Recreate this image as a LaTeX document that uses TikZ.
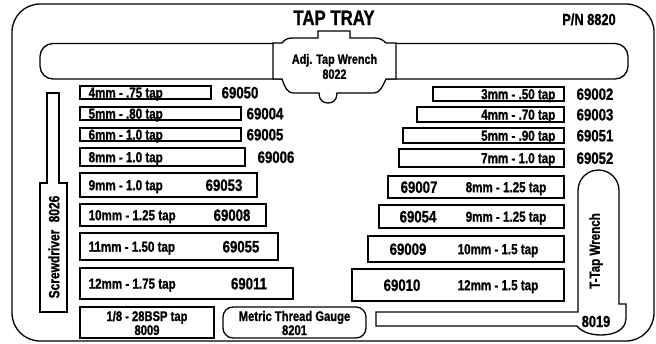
\documentclass[tikz,border=0pt]{standalone}
\usepackage{fontspec}
\setmainfont{Liberation Sans}[FakeStretch=0.8, BoldFeatures={FakeBold=1}]
\newcommand\fsz[1]{\bfseries\fontsize{#1}{#1}\selectfont}
\newcommand\lrow[8]{%
  \node[box, minimum width={#4-#2}, minimum height={#5-#3}] (#1) at ({(#2+#4)/2},{(#3+#5)/2}) {};
  \node[txt, anchor=west] (#1t) at ([xshift=8pt]#1.west) {#6};
  \node[num] (#1n) at (#8,{(#3+#5)/2}) {#7};}
\newcommand\rrowa[7]{%
  \node[box, minimum width={#4-#2}, minimum height={#5-#3}] (#1) at ({(#2+#4)/2},{(#3+#5)/2}) {};
  \node[txt, anchor=east] (#1t) at ([xshift=-8pt]#1.east) {#6};
  \node[num] (#1n) at (595,{(#3+#5)/2}) {#7};}
\newcommand\rrowb[9]{%
  \node[box, minimum width={#4-#2}, minimum height={#5-#3}] (#1) at ({(#2+#4)/2},{(#3+#5)/2}) {};
  \node[num] (#1n) at (#7,{(#3+#5)/2}) {#6};
  \node[txt] (#1t) at (#9,{(#3+#5)/2}) {#8};}
\begin{document}
\begin{tikzpicture}[x=1pt,y=-1pt, line width=1.3pt,
  box/.style={draw, line width=1.3pt, inner sep=0pt, outer sep=0pt},
  txt/.style={font=\fsz{14.5}, inner sep=0pt, text height=10.4pt, text depth=0pt},
  num/.style={font=\fsz{16.5}, inner sep=0pt, text height=11.8pt, text depth=0pt},
  lab/.style={inner sep=0pt},
]
\useasboundingbox (0,0) rectangle (656,343);
% outer tray
\draw[rounded corners=28pt] (12,4) rectangle (654,341);
\node[lab, anchor=base, font=\fsz{21}] (title) at (334,25) {TAP TRAY};
\node[lab, anchor=base, font=\fsz{16}] (pn) at (589,25) {P/N 8820};
% adjustable tap wrench
\draw[rounded corners=13pt] (40,43.5) rectangle (628,79);
\draw[fill=white] (273,43) -- (282,43) .. controls (285,39) and (288,38) .. (293,38) -- (318,38) -- (318,31) -- (350,31) -- (350,38) -- (374,38) .. controls (379,38) and (382,39) .. (386,43) -- (396,43) -- (396,79) -- (386,79) .. controls (382,88) and (379,93) .. (374,93) -- (337,93) .. controls (337,100) and (333,103) .. (328,103) .. controls (323,103) and (319,100) .. (319,93) -- (293,93) .. controls (288,93) and (285,88) .. (282,79) -- (273,79) -- cycle;
\node[lab, align=center, font={\bfseries\fontsize{13.5}{15}\selectfont}] (adj) at (334.5,66.5) {Adj. Tap Wrench\\8022};
% screwdriver
\draw (47,93) -- (59,93) -- (59,183) -- (67,183) -- (67,312) -- (40,312) -- (40,183) -- (47,183) -- cycle;
\node[lab, rotate=90, font=\fsz{15}] (sd) at (54,247) {Screwdriver\hspace{4pt} 8026};
% T-tap wrench
\draw (376,312) -- (578,312) -- (578,190.5) arc[start angle=180, end angle=360, radius=20.5] -- (619,304) -- (626,304) -- (626,318) .. controls (626,330) and (614,335) .. (601,335) .. controls (589,335) and (581,331) .. (577,326) -- (376,326) -- cycle;
\node[lab, rotate=90, font=\fsz{14.5}] (tw) at (596,251) {T-Tap Wrench};
\node[lab, anchor=base, font=\fsz{16}] (tn) at (596,327) {8019};
% left taps
\lrow{L1}{80}{86}{211}{99}{4mm - .75 tap}{69050}{240}
\lrow{L2}{80}{107}{241}{120}{5mm - .80 tap}{69004}{265}
\lrow{L3}{80}{128}{241}{141}{6mm - 1.0 tap}{69005}{265}
\lrow{L4}{80}{148}{245}{166}{8mm - 1.0 tap}{69006}{276}
\lrow{L5}{80}{173}{257}{197}{9mm - 1.0 tap}{69053}{224}
\lrow{L6}{80}{204}{266}{226}{10mm - 1.25 tap}{69008}{232}
\lrow{L7}{80}{233}{278}{260}{11mm - 1.50 tap}{69055}{241}
\lrow{L8}{80}{268}{293}{299}{12mm - 1.75 tap}{69011}{249}
% bottom boxes
\node[box, minimum width=134, minimum height=31] (bsp) at (147,322.5) {};
\node[lab, align=center, font={\bfseries\fontsize{14}{14}\selectfont}] (bspt) at (147,323) {1/8 - 28BSP tap\\8009};
\node[box, rounded corners=10pt, minimum width=143, minimum height=31] (mtg) at (294.5,322.5) {};
\node[lab, align=center, font={\bfseries\fontsize{14}{14}\selectfont}] (mtgt) at (294.5,323) {Metric Thread Gauge\\8201};
% right taps
\rrowa{R1}{433}{87}{564}{101}{3mm - .50 tap}{69002}
\rrowa{R2}{417}{107}{564}{122}{4mm - .70 tap}{69003}
\rrowa{R3}{403}{128}{564}{143}{5mm - .90 tap}{69051}
\rrowa{R4}{399}{149}{564}{167}{7mm - 1.0 tap}{69052}
\rrowb{R5}{388}{176}{564}{198}{69007}{419}{8mm - 1.25 tap}{506}
\rrowb{R6}{379}{205}{564}{228}{69054}{418}{9mm - 1.25 tap}{506}
\rrowb{R7}{368}{236}{564}{262}{69009}{408}{10mm - 1.5 tap}{498}
\rrowb{R8}{352}{269}{564}{301}{69010}{402}{12mm - 1.5 tap}{498}
\end{tikzpicture}
\end{document}
